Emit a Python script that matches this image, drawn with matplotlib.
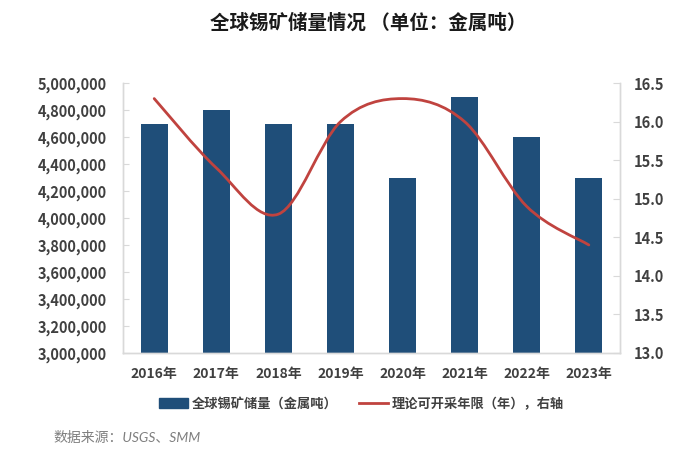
import matplotlib
matplotlib.use("Agg")
import matplotlib.pyplot as plt
import numpy as np
from matplotlib.path import Path
from matplotlib.patches import PathPatch
from matplotlib.lines import Line2D
from matplotlib.patches import Patch
from matplotlib.ticker import FuncFormatter, MultipleLocator

plt.rcParams['font.family'] = ['Noto Sans CJK SC', 'DejaVu Sans']

years = ["2016年", "2017年", "2018年", "2019年", "2020年", "2021年", "2022年", "2023年"]
reserves = [4700000, 4800000, 4700000, 4700000, 4300000, 4900000, 4600000, 4300000]
life_years = [16.3, 15.4, 14.8, 16.0, 16.3, 16.0, 14.9, 14.4]

bar_color = "#1F4E79"
line_color = "#C0433F"
tick_color = "#404040"
spine_color = "#D9D9D9"

fig = plt.figure(figsize=(6.88, 4.57), dpi=100)
ax = fig.add_axes([0.179, 0.228, 0.722, 0.590])
ax2 = ax.twinx()

x = np.arange(len(years))
ax.bar(x, reserves, width=0.43, color=bar_color, zorder=2)
ax.set_xlim(-0.5, len(years) - 0.5)
ax.set_ylim(3000000, 5000000)
ax.yaxis.set_major_locator(MultipleLocator(200000))
ax.yaxis.set_major_formatter(FuncFormatter(lambda v, p: f"{int(v):,}"))
ax.set_xticks(x)
ax.set_xticklabels(years)

ax2.set_ylim(13.0, 16.5)
ax2.yaxis.set_major_locator(MultipleLocator(0.5))
ax2.yaxis.set_major_formatter(FuncFormatter(lambda v, p: f"{v:.1f}"))

# smooth line through data with cubic Bezier segments (Catmull-Rom style)
pts = np.column_stack([x, life_years]).astype(float)
n = len(pts)
verts = [tuple(pts[0])]
codes = [Path.MOVETO]
for i in range(n - 1):
    p0 = pts[i - 1] if i > 0 else pts[i]
    p1 = pts[i]
    p2 = pts[i + 1]
    p3 = pts[i + 2] if i + 2 < n else pts[i + 1]
    c1 = p1 + (p2 - p0) / 6.0
    c2 = p2 - (p3 - p1) / 6.0
    verts += [tuple(c1), tuple(c2), tuple(p2)]
    codes += [Path.CURVE4] * 3
ax2.add_patch(PathPatch(Path(verts, codes), facecolor="none", edgecolor=line_color,
                        lw=2.0, zorder=3, capstyle="round", joinstyle="round"))

for a in (ax, ax2):
    a.spines['top'].set_visible(False)
    for s in ('left', 'right', 'bottom'):
        a.spines[s].set_color(spine_color)
        a.spines[s].set_linewidth(1.0)
ax.tick_params(axis='y', direction='in', length=4, color=spine_color, labelsize=10.5,
               labelcolor=tick_color, pad=12)
ax2.tick_params(axis='y', direction='in', length=5, color=spine_color, labelsize=10.5,
                labelcolor=tick_color, pad=10)
ax.tick_params(axis='x', length=0, labelsize=10, labelcolor=tick_color, pad=10)
for lab in ax.get_yticklabels() + ax2.get_yticklabels() + ax.get_xticklabels():
    lab.set_fontweight('bold')

fig.text(0.535, 0.950, "全球锡矿储量情况 （单位：金属吨）", ha='center', va='center',
         fontsize=14, fontweight='bold', color='#1a1a1a')

handles = [Patch(facecolor=bar_color, edgecolor=bar_color),
           Line2D([0], [0], color=line_color, lw=2)]
labels = ["全球锡矿储量（金属吨）", "理论可开采年限（年），右轴"]
leg = fig.legend(handles, labels, loc='center', bbox_to_anchor=(0.525, 0.116), ncol=2,
                 frameon=False, fontsize=9.5, handlelength=2.2, handleheight=0.8,
                 columnspacing=1.6, handletextpad=0.3)
for t in leg.get_texts():
    t.set_fontweight('bold')
    t.set_color(tick_color)

fig.text(0.078, 0.043, "数据来源：USGS、SMM", ha='left', va='center', fontsize=10,
         color='#7F7F7F', style='italic', family=['Lato', 'Noto Sans CJK SC'])

fig.savefig("out.png", dpi=100)
